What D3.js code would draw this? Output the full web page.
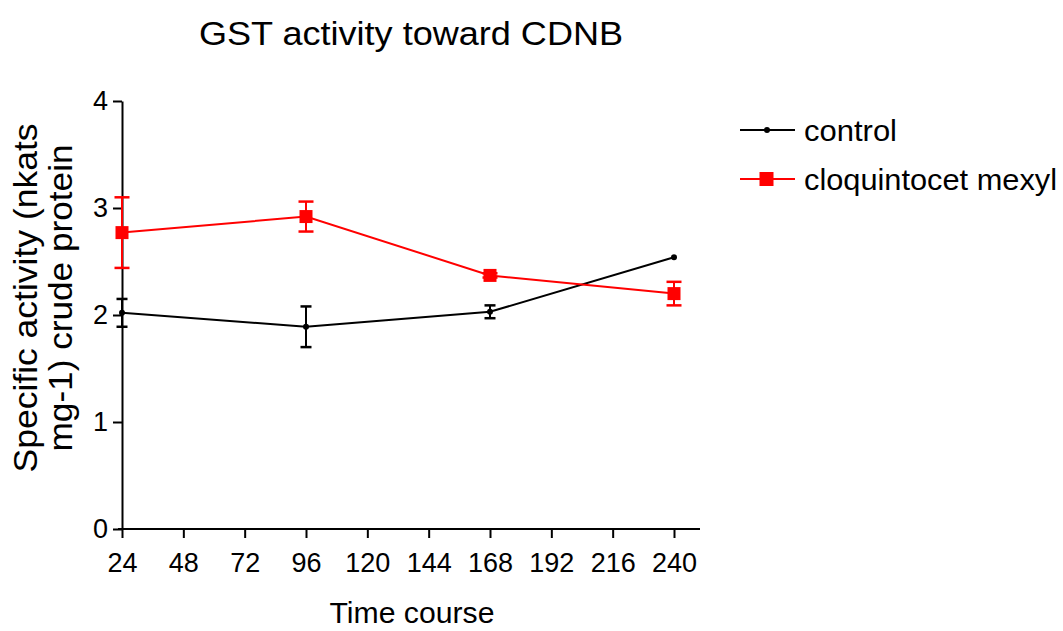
<!DOCTYPE html>
<html>
<head>
<meta charset="utf-8">
<script src="https://cdn.jsdelivr.net/npm/d3@7"></script>
<style>
  body { margin: 0; background: #fff; }
  text { font-family: "Liberation Sans", Arial, sans-serif; }
</style>
</head>
<body>
<svg id="chart" width="1063" height="631"></svg>
<script>
const hours = [24, 96, 168, 240];
const xTicks = [24, 48, 72, 96, 120, 144, 168, 192, 216, 240];
const yTicks = [0, 1, 2, 3, 4];

const controlMean = [2.02, 1.89, 2.03, 2.54];
const controlErr = [0.13, 0.19, 0.06, 0];
const cloqMean = [2.77, 2.92, 2.37, 2.20];
const cloqErr = [0.33, 0.14, 0.02, 0.11];

const svg = d3.select("#chart");

const x = d3.scaleLinear().domain([24, 240]).range([122, 674]);
const y = d3.scaleLinear().domain([0, 4]).range([529, 101]);

// axes
const xAxis = svg.append("g")
  .attr("transform", `translate(0,${y(0)})`)
  .call(d3.axisBottom(x).tickValues(xTicks).tickSize(9).tickPadding(15).tickSizeOuter(0));
xAxis.select(".domain").attr("d", `M${x(24) - 4},0H700`);

const yAxis = svg.append("g")
  .attr("transform", `translate(${x(24)},0)`)
  .call(d3.axisLeft(y).tickValues(yTicks).tickFormat(d3.format("d"))
    .tickSize(9).tickPadding(5).tickSizeOuter(0));

svg.selectAll(".tick text").attr("font-size", 27).attr("fill", "#000");
svg.selectAll(".domain, .tick line").attr("stroke", "#000").attr("stroke-width", 2);

const series = [
  { name: "control", mean: controlMean, err: controlErr, color: "#000", cap: 11, marker: "dot", w: 93 },
  { name: "cloquintocet mexyl", mean: cloqMean, err: cloqErr, color: "#ff0000", cap: 15, marker: "square", w: 253 }
];

const line = d3.line().x((d) => x(d[0])).y((d) => y(d[1]));

series.forEach((s) => {
  const pts = hours.map((h, i) => [h, s.mean[i], s.err[i]]);
  const g = svg.append("g");

  g.append("path")
    .attr("d", line(pts))
    .attr("fill", "none")
    .attr("stroke", s.color)
    .attr("stroke-width", 2);

  // error bars
  pts.filter((d) => d[2] > 0).forEach((d) => {
    const cx = x(d[0]);
    g.append("line")
      .attr("x1", cx).attr("x2", cx)
      .attr("y1", y(d[1] - d[2])).attr("y2", y(d[1] + d[2]))
      .attr("stroke", s.color).attr("stroke-width", 2);
    [d[1] - d[2], d[1] + d[2]].forEach((v) => {
      g.append("line")
        .attr("x1", cx - s.cap / 2).attr("x2", cx + s.cap / 2)
        .attr("y1", y(v)).attr("y2", y(v))
        .attr("stroke", s.color).attr("stroke-width", 2.5);
    });
  });

  if (s.marker == "dot") {
    g.selectAll("circle").data(pts).join("circle")
      .attr("cx", (d) => x(d[0])).attr("cy", (d) => y(d[1]))
      .attr("r", 3).attr("fill", s.color);
  } else {
    g.selectAll("rect").data(pts).join("rect")
      .attr("x", (d) => x(d[0]) - 6.5).attr("y", (d) => y(d[1]) - 6.5)
      .attr("width", 13).attr("height", 13).attr("fill", s.color);
  }
});

// legend
const legend = svg.selectAll(".legend").data(series).join("g")
  .attr("class", "legend")
  .attr("transform", (d, i) => `translate(740,${130 + i * 49})`);

legend.append("line")
  .attr("x1", 0).attr("x2", 55).attr("y1", 0).attr("y2", 0)
  .attr("stroke", (d) => d.color).attr("stroke-width", 2);

legend.each(function (d) {
  const g = d3.select(this);
  if (d.marker == "dot") {
    g.append("circle").attr("cx", 27).attr("cy", 0).attr("r", 3).attr("fill", d.color);
  } else {
    g.append("rect").attr("x", 19.5).attr("y", -7).attr("width", 14).attr("height", 14).attr("fill", d.color);
  }
});

legend.append("text")
  .attr("x", 64).attr("y", 11)
  .attr("font-size", 29)
  .attr("textLength", (d) => d.w)
  .attr("lengthAdjust", "spacingAndGlyphs")
  .text((d) => d.name);

// titles
svg.append("text")
  .attr("x", 411).attr("y", 45)
  .attr("text-anchor", "middle")
  .attr("font-size", 34)
  .attr("textLength", 424)
  .attr("lengthAdjust", "spacingAndGlyphs")
  .text("GST activity toward CDNB");

svg.append("text")
  .attr("x", 412).attr("y", 623)
  .attr("text-anchor", "middle")
  .attr("font-size", 29)
  .attr("textLength", 165)
  .attr("lengthAdjust", "spacingAndGlyphs")
  .text("Time course");

const yLab = svg.append("g")
  .attr("transform", "translate(0,298) rotate(-90)")
  .attr("font-size", 33);
yLab.append("text").attr("x", 0).attr("y", 37)
  .attr("text-anchor", "middle")
  .attr("textLength", 349).attr("lengthAdjust", "spacingAndGlyphs")
  .text("Specific activity (nkats");
yLab.append("text").attr("x", 0).attr("y", 72)
  .attr("text-anchor", "middle")
  .attr("textLength", 307).attr("lengthAdjust", "spacingAndGlyphs")
  .text("mg-1) crude protein");
</script>
</body>
</html>
